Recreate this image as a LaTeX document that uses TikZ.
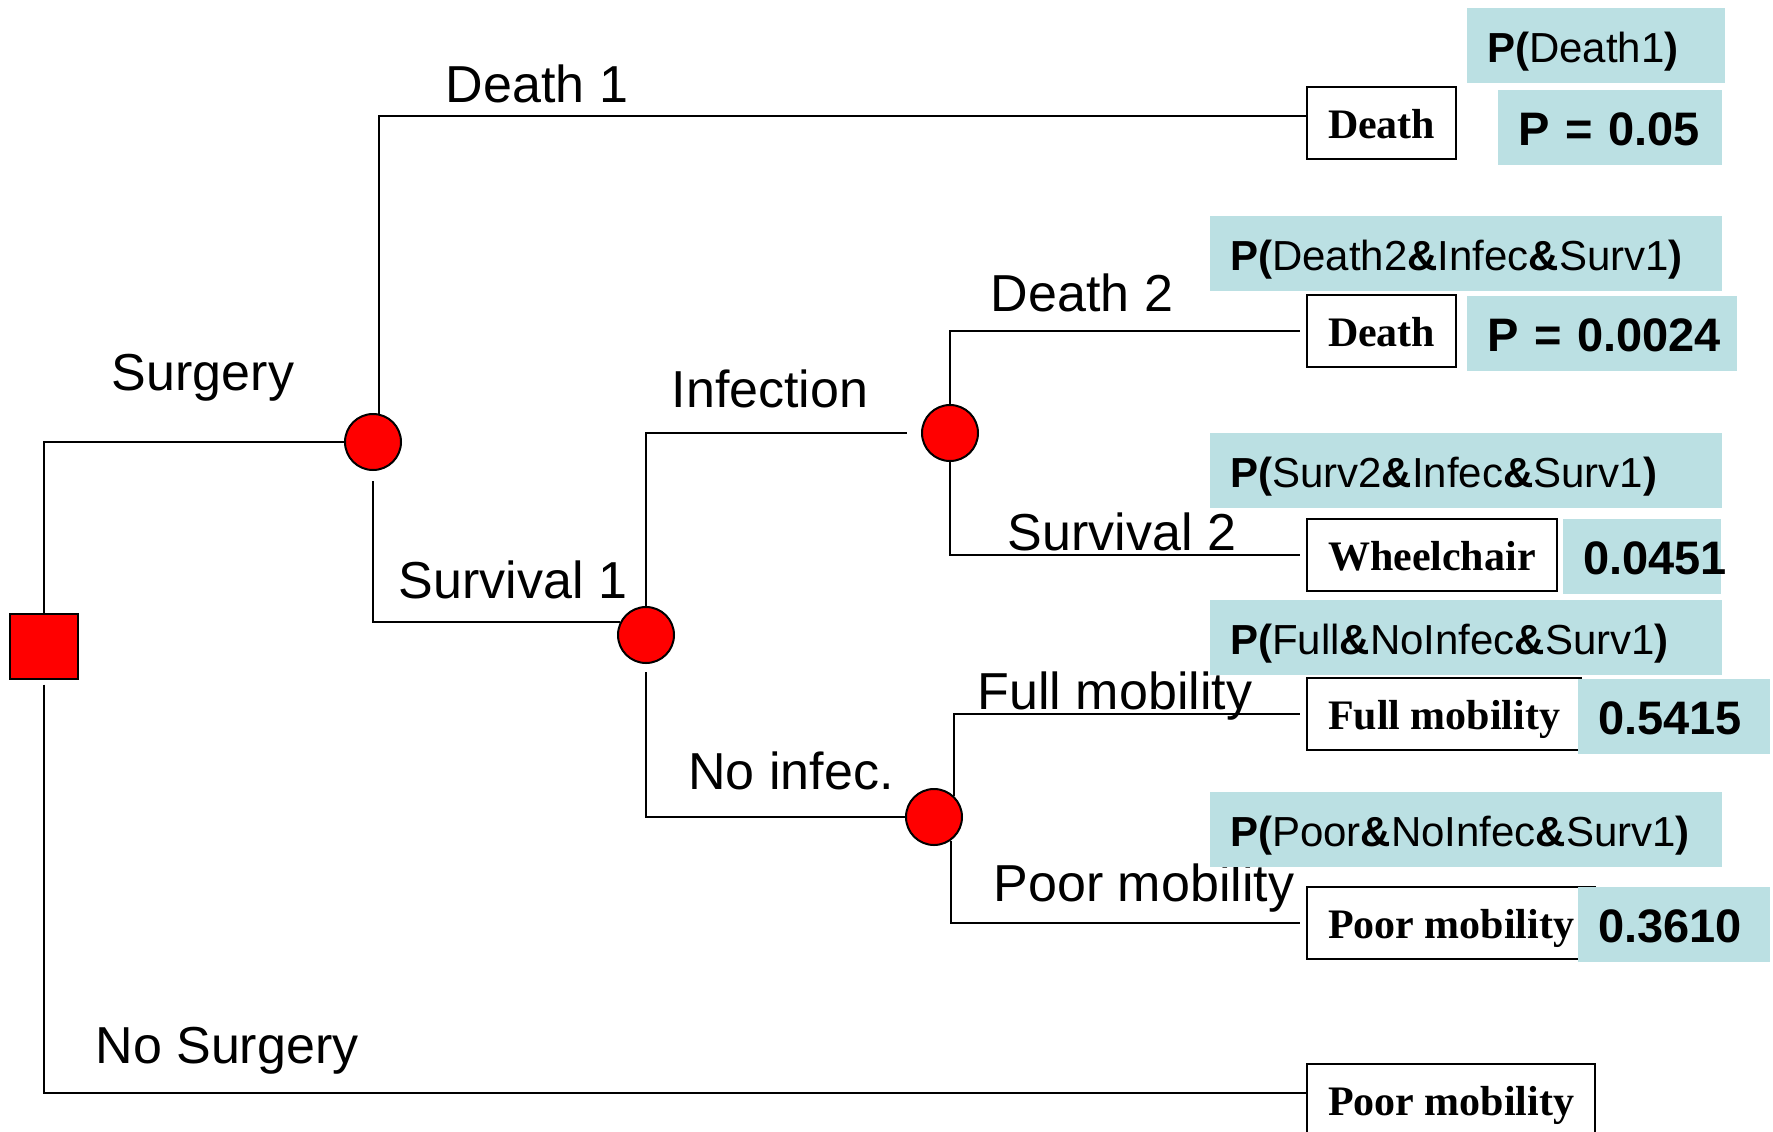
\documentclass[tikz,border=0pt]{standalone}
\usepackage{fontspec}
\setmainfont{Liberation Serif}
\setsansfont{Liberation Sans}
\usepackage{xcolor}
\usetikzlibrary{calc}
\definecolor{probcyan}{RGB}{187,224,227}

\tikzset{
    chance/.style={circle,draw=black,line width=1pt,fill=red,minimum size=28pt,inner sep=0pt},
    choice/.style={rectangle,draw=black,line width=1pt,fill=red,minimum width=34pt,minimum height=32.5pt,inner sep=0pt},
    branch/.style={font=\sffamily\fontsize{26}{30}\selectfont,anchor=base,inner sep=0pt},
    outcome/.style={rectangle,draw=black,line width=1pt,fill=white,anchor=west,inner xsep=10.5pt,
        minimum height=36pt,text height=15.5pt,text depth=0pt,font=\rmfamily\bfseries\fontsize{21}{25}\selectfont},
    prob/.style={rectangle,fill=probcyan,inner xsep=10pt,inner ysep=0pt,minimum height=37.5pt,align=left,
        text height=17pt,text depth=0pt,font=\sffamily\fontsize{21}{25}\selectfont},
    value/.style={rectangle,fill=probcyan,inner xsep=10pt,inner ysep=0pt,minimum height=37.5pt,align=left,
        text height=18pt,text depth=0pt,font=\sffamily\bfseries\fontsize{23.5}{28}\selectfont},
    tree/.style={line width=1pt}
}

\begin{document}
\begin{tikzpicture}[x=0.5pt,y=-0.5pt]
   \useasboundingbox (0,0) rectangle (1773,1131);

   % decision and chance nodes
   \node[choice] (dec) at (44,646) {};
   \node[chance] (c1) at (373,442) {};
   \node[chance] (c2) at (646,635) {};
   \node[chance] (c3) at (950,433) {};
   \node[chance] (c4) at (934,817) {};

   % branch labels
   \node[branch] (lsurg) at (203,390) {Surgery};
   \node[branch] (lnosurg) at (227,1063) {No Surgery};
   \node[branch] (ldeath1) at (537,102) {Death 1};
   \node[branch] (lsurv1) at (513,598) {Survival 1};
   \node[branch] (linfec) at (770,407) {Infection};
   \node[branch] (lnoinfec) at (791,789) {No infec.};
   \node[branch] (ldeath2) at (1082,311) {Death 2};
   \node[branch] (lsurv2) at (1122,550) {Survival 2};
   \node[branch] (lfull) at (1115,709) {Full mobility};
   \node[branch] (lpoor) at (1144,901) {Poor mobility};

   % outcomes
   \node[outcome] (death1) at (1306,123) {Death};
   \node[outcome] (death2) at (1306,331) {Death};
   \node[outcome] (wheel) at (1306,555) {Wheelchair};
   \node[outcome] (full) at (1306,714) {Full mobility};
   \node[outcome] (poor) at (1306,923) {Poor mobility};
   \node[outcome] (nosurg) at (1306,1100) {Poor mobility};

   % values
   \node[value,text width=92pt] (v1) at (1610,127) {\mbox{P = 0.05}};
   \node[value,text width=115pt] (v2) at (1602,333) {\mbox{P = 0.0024}};
   \node[value,text width=59pt] (v3) at (1642,556) {0.0451};
   \node[value,text width=76pt] (v4) at (1674,716) {0.5415};
   \node[value,text width=76pt] (v5) at (1674,924) {0.3610};

   % path probabilities
   \node[prob,text width=109pt] (p1) at (1596,45) {\textbf{P(}Death1\textbf{)}};
   \node[prob,text width=236pt] (p2) at (1466,253) {\textbf{P(}Death2\textbf{\&}Infec\textbf{\&}Surv1\textbf{)}};
   \node[prob,text width=236pt] (p3) at (1466,470) {\textbf{P(}Surv2\textbf{\&}Infec\textbf{\&}Surv1\textbf{)}};
   \node[prob,text width=236pt] (p4) at (1466,637) {\textbf{P(}Full\textbf{\&}NoInfec\textbf{\&}Surv1\textbf{)}};
   \node[prob,text width=236pt] (p5) at (1466,829) {\textbf{P(}Poor\textbf{\&}NoInfec\textbf{\&}Surv1\textbf{)}};

   % tree
   \draw[tree] (dec.north) |- (c1.west);
   \draw[tree,shorten <=2.5pt] (dec.south) |- ([yshift=3.5pt]nosurg.west);
   \draw[tree] (c1.78) |- ([yshift=3.5pt]death1.west);
   \draw[tree,shorten <=5pt] (c1.south) |- (c2.154);
   \draw[tree,shorten >=7pt] (c2.north) |- (c3.west);
   \draw[tree,shorten <=4pt] (c2.south) |- (c4.west);
   \draw[tree,shorten >=3pt] (c3.north) |- (death2.west);
   \draw[tree,shorten >=3pt] (c3.south) |- (wheel.west);
   \draw[tree,shorten >=3pt] (c4.47) |- (full.west);
   \draw[tree,shorten >=3pt] (c4.-55) |- (poor.west);
\end{tikzpicture}
\end{document}
